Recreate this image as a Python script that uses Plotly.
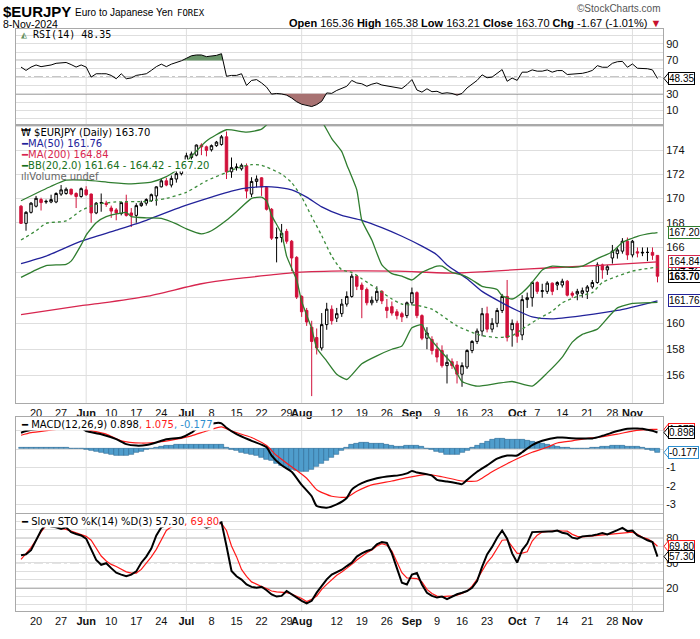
import numpy as np
import pandas as pd
import plotly.graph_objects as go

# ---------------- data ----------------
dates = pd.bdate_range("2024-05-15", "2024-11-08")
xi = list(range(len(dates)))

opens = [169.35, 167.95, 168.85, 169.35, 169.9, 169.7, 169.7, 169.7, 170.35, 170.4,
         170.75, 170.4, 170.15, 170.7, 170.35, 168.8, 169.6, 169.6, 169.2, 169.05,
         168.75, 169.65, 168.8, 168.6, 169.4, 169.6, 169.8, 170.2, 170.95, 171.45,
         171.1, 171.6, 172.05, 172.6, 173.4, 173.6, 174.45, 174.3, 174.05, 174.4,
         174.5, 175.15, 172.2, 172.55, 172.45, 172.7, 170.35, 171.4, 171.7, 170.9,
         169.1, 166.75, 166.8, 167.3, 166.5, 165.2, 162.1, 161.0, 159.7, 158.9,
         158.1, 159.9, 161.1, 160.4, 160.75, 161.5, 162.1, 163.7, 163.0, 162.65,
         161.6, 161.8, 162.5, 161.25, 161.3, 160.9, 160.75, 160.6, 161.6, 162.4,
         160.6, 158.85, 158.75, 158.0, 157.9, 156.75, 157.05, 156.8, 156.1, 156.65,
         157.9, 158.6, 159.4, 160.75, 159.55, 160.0, 161.0, 162.1, 159.5, 160.0,
         159.1, 161.85, 162.0, 163.2, 162.5, 162.5, 163.15, 163.0, 163.0, 163.3,
         162.35, 162.3, 162.35, 162.5, 162.85, 163.2, 164.6, 164.2, 165.15, 165.5,
         165.7, 166.5, 165.4, 165.65, 165.55, 165.6, 165.6, 165.36]
highs = [169.45, 168.95, 169.7, 170.2, 170.05, 169.9, 170.3, 170.5, 171.1, 170.9,
         170.8, 170.5, 170.9, 171.0, 170.4, 169.7, 170.4, 169.8, 169.4, 169.2,
         169.7, 170.3, 169.2, 169.6, 169.8, 170.0, 170.4, 171.0, 171.6, 171.7,
         171.9, 172.3, 172.7, 173.8, 173.9, 174.5, 174.6, 174.4, 174.5, 174.8,
         175.3, 175.6, 173.4, 172.9, 172.9, 172.9, 171.75, 171.9, 171.75, 171.0,
         169.2, 167.6, 167.9, 167.5, 166.6, 165.3, 162.2, 161.2, 160.2, 159.6,
         160.8, 161.6, 161.4, 161.2, 161.9, 162.5, 163.9, 163.8, 163.2, 162.8,
         162.1, 162.9, 162.6, 161.9, 161.7, 161.1, 160.9, 161.7, 162.8, 162.5,
         160.7, 159.7, 159.0, 158.5, 158.3, 157.6, 157.3, 157.1, 157.0, 158.0,
         158.7, 159.6, 161.2, 161.3, 160.4, 161.2, 162.3, 163.4, 160.3, 160.2,
         162.2, 162.4, 163.3, 163.3, 163.1, 163.3, 163.2, 163.3, 163.5, 163.4,
         162.5, 162.7, 162.8, 163.0, 163.4, 164.8, 164.7, 164.6, 166.2, 166.0,
         166.75, 166.8, 166.6, 166.0, 166.0, 166.0, 166.0, 165.38]
lows = [167.9, 167.35, 168.75, 169.25, 169.0, 169.55, 169.6, 169.6, 170.2, 170.3,
        170.25, 169.2, 170.05, 170.2, 168.0, 168.7, 168.9, 169.3, 168.4, 168.2,
        168.6, 168.5, 167.65, 168.0, 169.3, 169.4, 169.7, 169.4, 170.9, 171.0,
        170.9, 171.3, 171.9, 172.5, 173.2, 173.5, 173.6, 173.5, 173.9, 174.3,
        174.4, 171.6, 171.7, 172.3, 172.3, 170.0, 170.1, 170.9, 170.2, 169.0,
        166.6, 164.8, 166.4, 166.3, 164.1, 161.9, 160.5, 159.8, 154.45, 157.6,
        157.9, 159.5, 159.9, 160.1, 160.5, 161.3, 162.0, 162.6, 160.4, 161.4,
        161.4, 161.6, 161.5, 160.4, 160.6, 160.3, 160.1, 160.4, 161.4, 160.4,
        158.7, 158.0, 157.6, 157.0, 156.6, 155.4, 156.5, 155.4, 155.15, 156.5,
        157.7, 158.4, 159.0, 159.3, 159.3, 159.7, 160.8, 158.6, 158.2, 158.5,
        158.7, 161.2, 161.3, 162.3, 162.0, 162.3, 162.2, 162.6, 162.8, 162.1,
        162.0, 161.8, 162.0, 161.9, 162.7, 163.1, 163.5, 163.8, 164.7, 165.1,
        165.5, 165.0, 165.2, 165.2, 165.3, 164.9, 165.0, 163.21]
closes = [167.95, 168.85, 169.6, 170.0, 169.65, 169.75, 169.9, 170.4, 170.7, 170.75,
          170.35, 170.15, 170.8, 170.3, 168.8, 169.6, 169.65, 169.5, 168.95, 168.8,
          169.65, 168.6, 168.6, 169.4, 169.6, 169.9, 170.3, 170.95, 171.45, 171.1,
          171.65, 172.05, 172.6, 173.55, 173.7, 174.45, 174.3, 174.0, 174.4, 174.7,
          175.15, 172.2, 172.55, 172.6, 172.75, 170.6, 171.4, 171.6, 170.95, 169.1,
          166.75, 166.8, 167.15, 166.5, 165.15, 162.05, 160.9, 160.1, 158.6, 158.1,
          159.9, 161.1, 160.2, 160.75, 161.5, 162.1, 163.7, 162.9, 162.65, 161.6,
          161.8, 162.5, 161.75, 161.0, 160.8, 160.6, 160.5, 161.6, 162.4, 160.6,
          158.85, 159.25, 157.9, 157.4, 156.75, 157.0, 156.75, 156.1, 156.75, 157.9,
          158.6, 159.4, 160.75, 159.55, 160.0, 161.0, 162.1, 158.9, 160.0, 159.0,
          161.85, 162.0, 163.2, 162.5, 162.55, 163.15, 162.5, 163.2, 163.3, 162.2,
          162.2, 162.5, 162.55, 162.85, 163.2, 164.6, 164.2, 164.45, 165.7, 165.8,
          166.5, 165.4, 166.5, 165.55, 165.6, 165.6, 165.37, 163.70]

ma50_i = [0, 5, 12, 19, 25, 32, 38, 42, 46, 50, 54, 57, 60, 64, 68, 72, 76, 80, 83, 85,
          89, 92, 96, 99, 102, 106, 112, 119, 127]
ma50_v = [164.7, 165.3, 166.5, 167.4, 168.2, 169.3, 170.1, 170.6, 170.9, 170.95, 170.7,
          170.1, 169.3, 168.6, 168.2, 167.6, 166.9, 166.1, 165.4, 164.6, 163.5, 162.5,
          161.6, 161.0, 160.5, 160.35, 160.6, 161.0, 161.76]

ma200_i = [0, 12, 16, 25, 36, 43, 50, 55, 65, 75, 86, 92, 98, 105, 111, 118, 127]
ma200_v = [160.67, 161.38, 161.57, 162.1, 163.1, 163.5, 163.8, 164.0, 164.12, 164.1,
           163.95, 164.05, 164.2, 164.35, 164.47, 164.62, 164.84]

bbu_i = [0, 6, 9, 13, 18, 22, 26, 29, 32, 34, 37, 41, 45, 48, 51, 54, 57, 60, 62, 64,
         65, 67, 68, 70, 72, 74, 76, 78, 80, 83, 84, 86, 88, 90, 92, 95, 96, 98, 100, 102,
         104, 106, 110, 112, 115, 118, 120, 123, 126, 127]
bbu_v = [169.8, 171.0, 171.5, 171.5, 171.3, 171.2, 171.35, 171.8, 172.6, 173.5,
         174.8, 175.75, 175.55, 175.8, 177.0, 178.0, 178.2, 176.5, 175.0, 173.9,
         172.8, 170.7, 168.2, 166.6, 164.6, 163.9, 163.7, 163.4, 164.0, 164.5,
         164.5, 164.0, 163.8, 163.4, 162.9, 162.65, 162.15, 161.9, 162.4, 163.2,
         164.2, 164.5, 164.4, 164.5, 165.1, 165.65, 166.4, 166.9, 167.15, 167.2]

bbm_i = [0, 3, 5, 9, 12, 15, 19, 25, 29, 33, 37, 41, 43, 46, 48, 52, 54, 56, 58, 60,
         62, 64, 66, 68, 71, 74, 76, 79, 82, 84, 87, 90, 92, 95, 98, 100, 103, 106, 108, 111,
         114, 116, 119, 122, 124, 127]
bbm_v = [166.6, 167.35, 167.95, 168.15, 169.0, 169.5, 169.7, 169.75, 170.0, 170.5,
         171.45, 172.15, 172.5, 172.8, 172.75, 172.0, 171.3, 170.1, 168.5, 166.95,
         165.3, 164.2, 164.0, 163.5, 162.7, 161.9, 161.5, 161.4, 161.1, 160.6,
         159.8, 159.3, 159.05, 158.9, 159.05, 159.55, 160.3, 160.95, 161.6, 162.1,
         162.4, 163.2, 163.7, 164.1, 164.25, 164.42]

bbl_i = [0, 3, 5, 9, 10, 12, 13, 15, 17, 21, 22, 25, 28, 31, 33, 36, 38, 41, 43, 46,
         48, 49, 50, 52, 53, 55, 56, 58, 59, 61, 63, 65, 68, 71, 74, 76, 78, 80, 81, 84,
         86, 88, 91, 95, 98, 102, 105, 108, 110, 112, 115, 117, 119, 122, 127]
bbl_v = [163.6, 164.2, 164.55, 164.65, 164.9, 166.2, 167.0, 168.0, 168.5, 168.85,
         168.5, 168.4, 168.35, 167.9, 167.5, 167.1, 167.35, 168.2, 168.9, 170.0,
         170.1, 169.8, 168.6, 167.1, 165.3, 163.4, 161.7, 159.6, 158.1, 157.1,
         156.1, 155.7, 156.9, 157.5, 158.0, 158.25, 159.65, 159.9, 159.15, 157.75,
         156.9, 155.55, 155.2, 155.4, 155.55, 155.2, 156.2, 157.4, 158.55, 159.15,
         159.55, 160.4, 161.2, 161.55, 161.64]

rsi = [62, 58, 62, 64.5, 62.5, 63.5, 64.5, 66.5, 67, 67.5,
       65, 62, 64.5, 62, 50, 54, 54, 54, 52, 48,
       54, 48, 49, 52, 53, 54, 58, 62.5, 65.5, 62.5,
       65.5, 67.5, 69.5, 72.5, 75.5, 76.5, 76.5, 74.5, 75.5, 76,
       78, 51, 52, 52, 54, 40, 46, 47, 43, 38,
       29.6, 30.4, 29.8, 28.4, 25, 20.5, 17.5, 16.5, 14.7, 17,
       21, 31, 30.5, 34, 36.5, 39, 46, 43, 42, 39,
       41.5, 43, 40.5, 39.5, 38, 37, 36.3, 41, 47, 34.5,
       32, 36, 32.5, 33, 30.4, 31.2, 30.4, 28.4, 30.4, 37,
       42, 46, 52.7, 49.2, 50, 55, 59, 45, 48.8, 46.1,
       55.9, 55.9, 58.6, 57.1, 57.1, 58.6, 55.9, 57.8, 57.8, 53.1,
       53.5, 54, 54.5, 55.9, 58, 63.7, 61.8, 61.8, 66.5, 68.4,
       68.8, 61.8, 65.7, 60.6, 60.2, 60, 58.6, 48.35]

macd_i = [0, 1, 3, 7, 10, 12, 13, 16, 19, 21, 23, 25, 27, 29, 32, 34, 35, 37, 39, 40,
          41, 43, 46, 49, 50, 52, 54, 56, 58, 59, 61, 63, 65, 66, 68, 71, 74, 75, 77, 78,
          79, 82, 83, 85, 87, 88, 89, 91, 93, 95, 97, 99, 100, 102, 104, 107, 108, 111, 114, 116,
          119, 121, 123, 124, 125, 126, 127]
macd_v = [0.89, 0.98, 1.07, 1.21, 1.34, 1.16, 0.98, 0.81, 0.54, 0.27, 0.19, 0.22, 0.36, 0.54,
          0.63, 0.89, 1.1, 1.3, 1.42, 1.4, 1.16, 0.81, 0.45, 0.1, -0.35, -0.88, -1.23, -1.94,
          -2.56, -3.09, -3.18, -3.0, -2.65, -2.2, -1.85, -1.58, -1.46, -1.44, -1.32, -1.19,
          -1.27, -1.44, -1.67, -1.76, -1.85, -1.9, -1.67, -1.23, -0.88, -0.52, -0.35, -0.35,
          -0.17, 0.22, 0.45, 0.63, 0.63, 0.58, 0.58, 0.72, 0.98, 1.11, 1.12, 1.1, 1.05, 1.0, 0.898]

sig_i = [0, 2, 7, 11, 13, 17, 20, 24, 28, 31, 34, 37, 40, 42, 46, 49, 51, 54, 57, 59,
         62, 65, 67, 70, 74, 77, 81, 84, 88, 91, 92, 94, 97, 99, 102, 105, 107, 110, 113, 115,
         119, 122, 124, 126, 127]
sig_v = [0.75, 0.89, 1.07, 1.28, 1.07, 0.81, 0.45, 0.33, 0.4, 0.54, 0.72, 0.98, 1.21, 0.98,
         0.63, 0.19, -0.35, -0.96, -1.58, -2.2, -2.56, -2.61, -2.29, -1.94, -1.73, -1.55,
         -1.37, -1.5, -1.73, -1.73, -1.58, -1.23, -0.79, -0.52, -0.17, 0.1, 0.33, 0.45, 0.58,
         0.63, 0.81, 0.98, 1.04, 1.07, 1.075]

hist = [0.1, 0.1, 0.1, 0.1, 0.09, 0.09, 0.08, 0.08, 0.07, 0.06,
        0.04, 0.02, 0.0, -0.05, -0.1, -0.15, -0.2, -0.26, -0.3, -0.33,
        -0.35, -0.33, -0.28, -0.2, -0.12, -0.05, 0.02, 0.08, 0.13, 0.17,
        0.2, 0.23, 0.24, 0.25, 0.26, 0.26, 0.25, 0.25, 0.24, 0.24,
        0.22, 0.1, -0.02, -0.1, -0.18, -0.25, -0.3, -0.38, -0.45, -0.55,
        -0.65, -0.78, -0.9, -1.0, -1.1, -1.18, -1.24, -1.2, -1.1, -0.95,
        -0.8, -0.62, -0.45, -0.28, -0.1, 0.1, 0.22, 0.3, 0.33, 0.33,
        0.32, 0.3, 0.27, 0.22, 0.17, 0.15, 0.15, 0.17, 0.2, 0.17,
        0.12, 0.05, -0.05, -0.15, -0.22, -0.28, -0.3, -0.3, -0.22, -0.1,
        0.08, 0.2, 0.32, 0.42, 0.5, 0.56, 0.58, 0.52, 0.5, 0.52,
        0.5, 0.45, 0.4, 0.35, 0.3, 0.26, 0.2, 0.15, 0.1, 0.06,
        0.04, 0.04, 0.05, 0.05, 0.06, 0.08, 0.12, 0.15, 0.17, 0.18,
        0.16, 0.15, 0.14, 0.12, 0.06, -0.02, -0.1, -0.177]

sto_k = [59, 60, 65, 77, 88.6, 96.5, 93.3, 92.5, 90.6, 92.5,
         86.7, 84.5, 82.7, 78.8, 65, 53.3, 47.5, 49.4, 43.5, 38,
         35.7, 33.7, 35.7, 39.6, 50, 57.3, 67, 82.7, 92.5, 95,
         98.4, 98, 97, 99, 98, 99, 95, 92, 94, 96,
         98.4, 70, 40, 33.7, 29.8, 24, 21, 20, 21.2, 17,
         12, 9.4, 10.2, 16.1, 12, 8, 4.3, 1.2, 4.3, 14.1,
         22, 30, 35.7, 39, 41.6, 46, 50, 57.3, 61.2, 64,
         66, 72, 74.9, 73.7, 61.2, 43.5, 25.9, 23.9, 35.7, 37.6,
         23.9, 14, 10.2, 8.2, 9.4, 6.3, 9.4, 12.2, 14, 16.1,
         20, 28, 45, 60, 69, 80, 88.6, 78.8, 61.2, 50.2,
         65.1, 72.9, 86.7, 87, 87.8, 87.5, 87.5, 88.6, 86, 84.7,
         80, 78.8, 81.6, 82, 82.7, 84, 85.5, 83.9, 86, 89,
         91.8, 87.8, 88.6, 82.7, 80, 76.9, 74.9, 57.3]
sto_d = [54, 61, 68, 77, 87, 94.5, 94.5, 93, 91, 90,
         88, 85.5, 83.5, 81.6, 77, 68, 58, 52, 48, 45.5,
         42, 39, 37.6, 37.6, 42, 49.4, 57, 66, 78, 88.6,
         93, 95, 97, 98, 98, 98.5, 97, 95, 94, 95,
         97, 88.6, 70, 57.3, 42, 33.7, 27, 23.9, 21.5, 19,
         16.1, 15, 14.5, 14.1, 12.5, 10, 7, 3.5, 6, 10,
         18, 24, 30, 35, 39, 43, 48, 53.3, 58, 62,
         65.1, 70, 72.9, 71, 64, 51.4, 38, 31.8, 31.8, 31,
         27, 18, 13, 10, 9.4, 9.5, 10.2, 11, 13, 16,
         22, 30, 40, 50, 57.3, 68, 76.9, 77.5, 70, 61.2,
         61.5, 63.1, 76, 83, 86.7, 87.5, 88.5, 88.6, 88, 87.8,
         84, 81.6, 81, 81.6, 82, 83, 83.9, 84.5, 85, 85.5,
         86, 86.5, 86.7, 84, 80.5, 78.8, 75, 69.8]

tick_dates = ["2024-05-20", "2024-05-27", "2024-06-03", "2024-06-10", "2024-06-17",
              "2024-06-24", "2024-07-01", "2024-07-08", "2024-07-15", "2024-07-22",
              "2024-07-29", "2024-08-01", "2024-08-12", "2024-08-19", "2024-08-26",
              "2024-09-02", "2024-09-09", "2024-09-16", "2024-09-23", "2024-10-01",
              "2024-10-07", "2024-10-14", "2024-10-21", "2024-10-28", "2024-11-01"]
tick_text = ["20", "27", "<b>Jun</b>", "10", "17", "24", "<b>Jul</b>", "8", "15", "22",
             "29", "<b>Aug</b>", "12", "19", "26", "<b>Sep</b>", "9", "16", "23", "<b>Oct</b>",
             "7", "14", "21", "28", "<b>Nov</b>"]
month_dates = ["2024-06-03", "2024-07-01", "2024-08-01", "2024-09-02", "2024-10-01", "2024-11-01"]

# ---------------- helpers ----------------
date_pos = {d.strftime("%Y-%m-%d"): k for k, d in enumerate(dates)}
tick_idx = [date_pos[d] for d in tick_dates]
month_idx = [date_pos[d] for d in month_dates]

W, H = 700, 639
L, R, T, B = 16, 37, 29, 17
PW, PH = W - L - R, H - T - B


def PX(x):
    return (x - L) / PW


def PY(y):
    return (H - B - y) / PH


def clip_fill(xs, ys, level, above):
    X, Y = [], []
    for k in range(len(xs)):
        if k > 0:
            y0, y1 = ys[k - 1], ys[k]
            if (y0 - level) * (y1 - level) < 0:
                t = (level - y0) / (y1 - y0)
                X.append(xs[k - 1] + t * (xs[k] - xs[k - 1]))
                Y.append(level)
        X.append(xs[k])
        Y.append(max(ys[k], level) if above else min(ys[k], level))
    X += [X[-1], X[0]]
    Y += [level, level]
    return X, Y


GRID = "#dedede"
BORDER = "#a9a9a9"
TICKFONT = dict(family="Liberation Sans, Arial, sans-serif", size=11, color="#111111")
LEGFONT = "DejaVu Sans, Verdana, sans-serif"
RED = "#d0103a"

fig = go.Figure()

# ---- RSI panel ----
fx, fy = clip_fill(xi, rsi, 70, True)
fig.add_trace(go.Scatter(x=fx, y=fy, fill="toself", fillcolor="#6a956a", mode="lines",
                         line=dict(width=0), xaxis="x", yaxis="y", hoverinfo="skip"))
fx, fy = clip_fill(xi, rsi, 30, False)
fig.add_trace(go.Scatter(x=fx, y=fy, fill="toself", fillcolor="#a87272", mode="lines",
                         line=dict(width=0), xaxis="x", yaxis="y", hoverinfo="skip"))
fig.add_trace(go.Scatter(x=xi, y=rsi, mode="lines", line=dict(color="black", width=1),
                         xaxis="x", yaxis="y"))

# ---- Price panel ----
fig.add_trace(go.Candlestick(x=xi, open=opens, high=highs, low=lows, close=closes,
                             increasing=dict(line=dict(color="black", width=1), fillcolor="white"),
                             decreasing=dict(line=dict(color=RED, width=1), fillcolor=RED),
                             whiskerwidth=0, xaxis="x2", yaxis="y2"))
fig.add_trace(go.Scatter(x=ma200_i, y=ma200_v, mode="lines", line=dict(color="#d7264f", width=1.3, shape="spline", smoothing=0.6),
                         xaxis="x2", yaxis="y2"))
fig.add_trace(go.Scatter(x=ma50_i, y=ma50_v, mode="lines", line=dict(color="#22229a", width=1.3, shape="spline", smoothing=0.6),
                         xaxis="x2", yaxis="y2"))
fig.add_trace(go.Scatter(x=bbm_i, y=bbm_v, mode="lines", line=dict(color="#3b8c3b", width=1.3, dash="dot", shape="spline", smoothing=0.6),
                         xaxis="x2", yaxis="y2"))
fig.add_trace(go.Scatter(x=bbu_i, y=bbu_v, mode="lines", line=dict(color="#2f7d2f", width=1.3, shape="spline", smoothing=0.5),
                         xaxis="x2", yaxis="y2"))
fig.add_trace(go.Scatter(x=bbl_i, y=bbl_v, mode="lines", line=dict(color="#2f7d2f", width=1.3, shape="spline", smoothing=0.5),
                         xaxis="x2", yaxis="y2"))

# ---- MACD panel ----
fig.add_trace(go.Bar(x=xi, y=hist, width=1.0, marker=dict(color="#4f9dcc", line=dict(color="#2a6a96", width=0.6)),
                     xaxis="x3", yaxis="y3"))
fig.add_trace(go.Scatter(x=sig_i, y=sig_v, mode="lines", line=dict(color="#ff1a1a", width=1.2, shape="spline", smoothing=0.6),
                         xaxis="x3", yaxis="y3"))
fig.add_trace(go.Scatter(x=macd_i, y=macd_v, mode="lines", line=dict(color="black", width=2, shape="spline", smoothing=0.6),
                         xaxis="x3", yaxis="y3"))

# ---- Slow STO panel ----
fig.add_trace(go.Scatter(x=xi, y=sto_d, mode="lines", line=dict(color="#ff1a1a", width=1.2),
                         xaxis="x4", yaxis="y4"))
fig.add_trace(go.Scatter(x=xi, y=sto_k, mode="lines", line=dict(color="black", width=2),
                         xaxis="x4", yaxis="y4"))

# ---------------- axes ----------------
common_x = dict(range=[-1.0, 128.1], showgrid=False, zeroline=False, showline=True, mirror=True,
                linecolor=BORDER, linewidth=1, tickmode="array", tickvals=tick_idx, ticktext=tick_text,
                ticks="", tickangle=0, tickfont=TICKFONT, fixedrange=True)
common_y = dict(side="right", showgrid=True, gridcolor=GRID, gridwidth=1, zeroline=False, showline=True,
                mirror=True, linecolor=BORDER, linewidth=1, ticks="", tickfont=TICKFONT, tickmode="array",
                fixedrange=True)

dom_rsi = [PY(127), 1.0]
dom_px = [PY(410), PY(127)]
dom_macd = [PY(522), PY(424)]
dom_sto = [0.0, PY(523)]

ten = list(range(0, 101, 10))
px_ticks = list(range(154, 177, 2))
fig.update_layout(
    width=W, height=H, margin=dict(l=L, r=R, t=T, b=B), paper_bgcolor="white", plot_bgcolor="white",
    showlegend=False, bargap=0,
    xaxis=dict(common_x, anchor="y", showticklabels=False),
    xaxis2=dict(common_x, anchor="y2", showticklabels=True, rangeslider=dict(visible=False), matches="x"),
    xaxis3=dict(common_x, anchor="y3", showticklabels=False, matches="x"),
    xaxis4=dict(common_x, anchor="y4", showticklabels=True, matches="x"),
    yaxis=dict(common_y, anchor="x", domain=dom_rsi, range=[-7.6, 107.6], tickvals=ten,
               ticktext=["" if v not in (10, 30, 70, 90) else str(v) for v in ten]),
    yaxis2=dict(common_y, anchor="x2", domain=dom_px, type="log",
                range=[np.log10(153.94), np.log10(176.14)], tickvals=px_ticks,
                ticktext=["" if v in (154, 162, 164, 176) else str(v) for v in px_ticks]),
    yaxis3=dict(common_y, anchor="x3", domain=dom_macd, range=[-3.46, 1.76], tickvals=[-3, -2, -1, 0, 1],
                ticktext=["-3", "-2", "-1", "", ""]),
    yaxis4=dict(common_y, anchor="x4", domain=dom_sto, range=[-7.9, 108.6], tickvals=ten,
                ticktext=["" if v not in (20, 50, 80) else str(v) for v in ten]),
)

# ---------------- shapes ----------------
shapes = []
for xa, ya in (("x", "y"), ("x2", "y2"), ("x3", "y3"), ("x4", "y4")):
    for m in month_idx:
        shapes.append(dict(type="line", xref=xa, yref=ya + " domain", x0=m, x1=m, y0=0, y1=1,
                           line=dict(color=GRID, width=1), layer="below"))
for ya, lv in (("y", (70, 30)), ("y4", (80, 20))):
    for v in lv:
        shapes.append(dict(type="line", xref="x domain", yref=ya, x0=0, x1=1, y0=v, y1=v,
                           line=dict(color="#6e6e6e", width=1.3), layer="below"))
    shapes.append(dict(type="line", xref="x domain", yref=ya, x0=0, x1=1, y0=50, y1=50,
                       line=dict(color="#777777", width=1, dash="dashdot"), layer="below"))


def tag(yref, yval, color):
    shapes.append(dict(type="path", xref="paper", xsizemode="pixel", xanchor=1.0,
                       yref=yref, ysizemode="pixel", yanchor=yval,
                       path="M 1,0 L 6,-6 L 6,6 Z", fillcolor="white",
                       line=dict(color=color, width=1), layer="above"))


# ---------------- annotations ----------------
ann = []


def txt(x, y, text, size=11, color="black", family=LEGFONT, xanchor="left", bg=None):
    d = dict(x=PX(x), y=PY(y), xref="paper", yref="paper", text=text, showarrow=False,
             xanchor=xanchor, yanchor="middle", font=dict(size=size, color=color, family=family),
             borderpad=0)
    if bg:
        d["bgcolor"] = bg
    ann.append(d)


SANS = "Liberation Sans, Arial, sans-serif"
txt(2, 11, "<b>$EURJPY</b>", size=15, family=SANS)
txt(74, 12, "Euro to Japanese Yen", size=10, family=SANS)
txt(176, 12.5, "FOREX", size=9, family="DejaVu Sans Mono, monospace")
txt(2, 24, "8-Nov-2024", size=10.5, family=SANS)
txt(662, 8, "©StockCharts.com", size=10, color="#555555", family=SANS, xanchor="right")
txt(662, 23, "<b>Open</b> 165.36 <b>High</b> 165.38 <b>Low</b> 163.21 <b>Close</b> 163.70 "
             "<b>Chg</b> -1.67 (-1.01%) <span style='color:#c8102e'>▼</span>",
    size=11, family=SANS, xanchor="right")

txt(20, 35, "<span style='color:#5f8f5f'>◭</span> RSI(14) 48.35", size=10, family="DejaVu Sans Mono, monospace")
txt(20, 134, "₩ $EURJPY (Daily) 163.70", size=10)
txt(20, 145.5, "<span style='color:#22229a'>━MA(50) 161.76</span>", size=10)
txt(20, 157, "<span style='color:#d7264f'>━MA(200) 164.84</span>", size=10)
txt(20, 168, "<span style='color:#17701a'>━BB(20,2.0) 161.64 - 164.42 - 167.20</span>", size=10, bg="white")
txt(20, 179, "<span style='color:#666666'>ılıVolume undef</span>", size=10)
txt(20, 432, "━ MACD(12,26,9) 0.898<span style='color:#ff1a1a'>, 1.075</span>"
             "<span style='color:#2e8fcf'>, -0.177</span>", size=10, bg="white")
txt(20, 531, "━ Slow STO %K(14) %D(3) 57.30<span style='color:#ff1a1a'>, 69.80</span>", size=10, bg="white")


def vbox(text, yref, yval, color, bold=False):
    tag(yref, yval, color)
    ann.append(dict(x=1.0, xref="paper", xanchor="left", xshift=5, y=yval, yref=yref, yanchor="middle",
                    text=("<b>%s</b>" % text) if bold else text, showarrow=False,
                    bordercolor=color, borderwidth=1, borderpad=0, bgcolor="white",
                    font=dict(size=10, color="black", family=SANS)))


vbox("48.35", "y", 48.35, "black")
vbox("164.42", "y2", np.log10(164.42), "#2f7d2f")
vbox("167.20", "y2", np.log10(167.20), "#2f7d2f")
vbox("164.84", "y2", np.log10(164.84), "#d7264f")
vbox("161.76", "y2", np.log10(161.76), "#22229a")
vbox("163.70", "y2", np.log10(163.70), "black", bold=True)
vbox("1.075", "y3", 1.075, "#ff1a1a")
vbox("0.898", "y3", 0.898, "black")
vbox("-0.177", "y3", -0.177, "#2e8fcf")
vbox("69.80", "y4", 69.80, "#ff1a1a")
vbox("57.30", "y4", 57.30, "black")

fig.update_layout(annotations=ann, shapes=shapes)

fig.write_html("out.html")
